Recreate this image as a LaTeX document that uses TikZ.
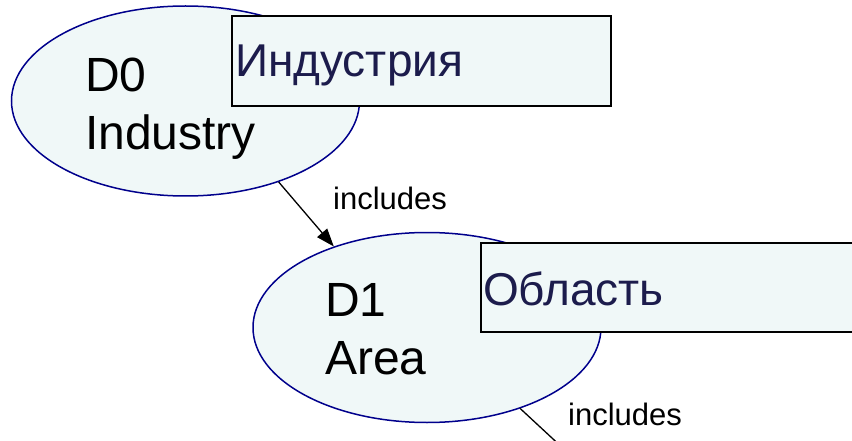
\documentclass[tikz,border=0pt]{standalone}
\usepackage{fontspec}
\setmainfont{Liberation Sans}
\usetikzlibrary{arrows.meta,shapes.geometric}
\definecolor{bubblefill}{RGB}{240,248,248}
\definecolor{bubbleline}{RGB}{0,0,140}
\definecolor{rucolor}{RGB}{28,28,76}
\begin{document}
\begin{tikzpicture}[x=1pt,y=-1pt,
  bubble/.style={ellipse, draw=bubbleline, line width=1.5pt, fill=bubblefill,
    inner sep=0pt, minimum width=348pt, minimum height=190pt},
  namebox/.style={rectangle, draw=black, line width=2.4pt, fill=bubblefill,
    inner sep=0pt, anchor=north west},
  bubbletext/.style={font=\fontsize{48}{58}\selectfont, align=left,
    anchor=north west, inner sep=0pt},
  rulabel/.style={font=\fontsize{46}{55}\selectfont, text=rucolor,
    anchor=base west, inner sep=0pt},
  rel/.style={font=\fontsize{31}{37}\selectfont, anchor=base west, inner sep=0pt},
  link/.style={draw=black, line width=1.3pt},
  linkarrow/.style={link, -{Triangle[length=18pt,width=13pt]}}
]
\useasboundingbox (0,0) rectangle (852,441);
\clip (0,0) rectangle (852,441);

% level D0
\node[bubble] (d0) at (185.5,101) {};
\node[namebox, minimum width=379pt, minimum height=90pt] (d0box) at (231,15) {};
\node[bubbletext] (d0txt) at (85,57.3) {D0\\Industry};
\node[rulabel] (d0ru) at (235,76.7) {Индустрия};

% level D1
\node[bubble] (d1) at (427,327.5) {};
\node[namebox, minimum width=440pt, minimum height=89pt] (d1box) at (480,242) {};
\node[bubbletext] (d1txt) at (325,283) {D1\\Area};
\node[rulabel] (d1ru) at (483,305) {Область};

% relations
\draw[linkarrow] (d0.-41) -- (d1.139);
\node[rel] (rel1) at (333,209) {includes};

\coordinate (next) at (566,451);
\draw[link] (d1.-41) -- (next);
\node[rel] (rel2) at (568,425) {includes};
\end{tikzpicture}
\end{document}
